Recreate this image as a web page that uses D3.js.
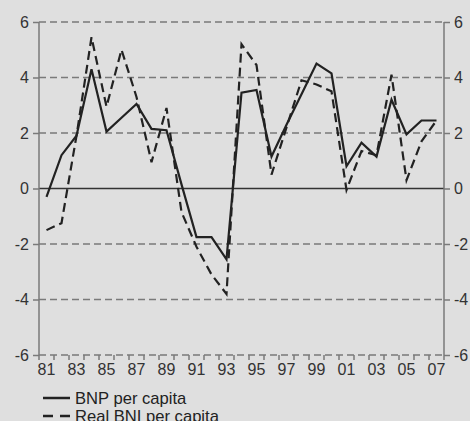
<!DOCTYPE html>
<html>
<head>
<meta charset="utf-8">
<title>BNP per capita</title>
<script src="https://d3js.org/d3.v7.min.js"></script>
<style>
body { margin: 0; background: #dfdfdf; }
svg { display: block; font-family: "Liberation Sans", Arial, sans-serif; }
</style>
</head>
<body>
<script>
// data (annual change, %)
var years = ["81","82","83","84","85","86","87","88","89","90","91","92","93","94","95","96","97","98","99","00","01","02","03","04","05","06","07"];
var bnp = [-0.3, 1.2, 1.9, 4.3, 2.05, 2.55, 3.05, 2.15, 2.1, 0.15, -1.75, -1.75, -2.55, 3.45, 3.55, 1.15, 2.3, 3.4, 4.5, 4.15, 0.8, 1.65, 1.15, 3.2, 1.95, 2.45, 2.45];
var realBni = [-1.5, -1.25, 1.9, 5.45, 2.95, 5.0, 3.3, 0.95, 2.9, -0.85, -2.1, -3.1, -3.8, 5.2, 4.45, 0.5, 2.2, 3.9, 3.75, 3.5, -0.05, 1.35, 1.2, 4.1, 0.3, 1.7, 2.45];
var yTicks = [-6, -4, -2, 0, 2, 4, 6];
var legendNames = ["BNP per capita", "Real BNI per capita"];

var w = 470, h = 421;
var plotL = 39, plotR = 444, plotT = 22, plotB = 355;

var svg = d3.select("body").append("svg")
  .attr("width", w)
  .attr("height", h);

svg.append("rect").attr("width", w).attr("height", h).attr("fill", "#dfdfdf");

var x = d3.scaleBand().domain(years).range([plotL, plotR]);
var y = d3.scaleLinear().domain([-6, 6]).range([plotB, plotT]);

// gridlines
svg.append("g").selectAll("line")
  .data(yTicks.filter(function(d){ return d != 0; }))
  .enter().append("line")
  .attr("x1", plotL).attr("x2", plotR)
  .attr("y1", function(d){ return y(d); })
  .attr("y2", function(d){ return y(d); })
  .attr("stroke", "#7a7a7a")
  .attr("stroke-width", 1.5)
  .attr("stroke-dasharray", "7,4");

// zero line
svg.append("line")
  .attr("x1", plotL).attr("x2", plotR)
  .attr("y1", y(0)).attr("y2", y(0))
  .attr("stroke", "#333").attr("stroke-width", 1.5);

// y axes
var yl = svg.append("g").attr("transform", "translate(" + plotL + ",0)")
  .call(d3.axisLeft(y).tickValues(yTicks).tickSize(6).tickPadding(4).tickFormat(d3.format("d")));
var yr = svg.append("g").attr("transform", "translate(" + plotR + ",0)")
  .call(d3.axisRight(y).tickValues(yTicks).tickSize(6).tickPadding(4).tickFormat(d3.format("d")));

[yl, yr].forEach(function(g){
  g.select(".domain").attr("stroke", "#7a7a7a").attr("stroke-width", 1.5).attr("d",
    "M0," + plotT + "V" + plotB);
  g.selectAll(".tick line").attr("stroke", "#7a7a7a").attr("stroke-width", 1.5);
  g.selectAll(".tick text").attr("fill", "#333").style("font-size", "16px")
    .style("font-family", "Liberation Sans, Arial, sans-serif")
    .text(function(d){ return d < 0 ? "-" + Math.abs(d) : d; });
});

// x ticks at band edges
var edges = years.map(function(d){ return x(d); }).concat([plotR]);
svg.append("g").selectAll("line")
  .data(edges)
  .enter().append("line")
  .attr("x1", function(d){ return d; }).attr("x2", function(d){ return d; })
  .attr("y1", plotB).attr("y2", plotB + 5)
  .attr("stroke", "#7a7a7a").attr("stroke-width", 1.5);

svg.append("g").selectAll("text")
  .data(years.filter(function(d, i){ return i % 2 == 0; }))
  .enter().append("text")
  .attr("x", function(d){ return x(d) + x.bandwidth() / 2; })
  .attr("y", plotB + 20)
  .attr("text-anchor", "middle")
  .attr("fill", "#333")
  .style("font-size", "16px")
  .text(function(d){ return d; });

// series
var line = d3.line()
  .x(function(d, i){ return x(years[i]) + x.bandwidth() / 2; })
  .y(function(d){ return y(d); });

svg.append("path").datum(realBni)
  .attr("d", line).attr("fill", "none")
  .attr("stroke", "#222").attr("stroke-width", 2.2)
  .attr("stroke-dasharray", "9,5");

svg.append("path").datum(bnp)
  .attr("d", line).attr("fill", "none")
  .attr("stroke", "#222").attr("stroke-width", 2.2);

// legend
var leg = svg.append("g");
legendNames.forEach(function(name, i){
  var ly = 398 + i * 18;
  leg.append("line")
    .attr("x1", 43).attr("x2", 70)
    .attr("y1", ly).attr("y2", ly)
    .attr("stroke", "#222").attr("stroke-width", 2.5)
    .attr("stroke-dasharray", i == 1 ? "10,7" : null);
  leg.append("text")
    .attr("x", 75).attr("y", ly + 5.5)
    .attr("fill", "#222")
    .style("font-size", "16.6px")
    .text(name);
});
</script>
</body>
</html>
